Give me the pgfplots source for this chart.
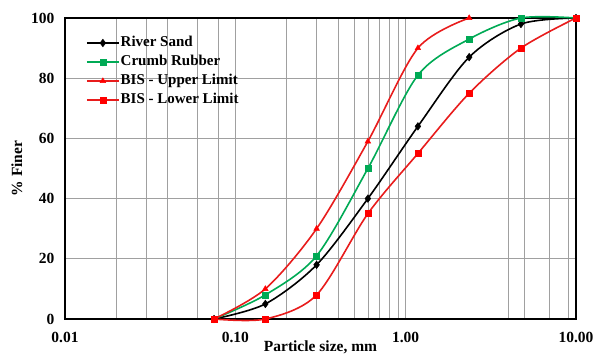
\documentclass[border=0pt]{standalone}
\usepackage{pgfplots}
\pgfplotsset{compat=1.18}
\usepackage{fontspec}
\setmainfont{Liberation Serif}
\definecolor{cgreen}{RGB}{0,170,85}
\definecolor{cred}{RGB}{232,28,28}
\definecolor{cgrid}{RGB}{160,160,160}
\begin{document}
\begin{tikzpicture}
\begin{axis}[
  at={(0,0)}, anchor=south west,
  scale only axis, width=511pt, height=301pt,
  xmode=log, xmin=0.01, xmax=10, ymin=0, ymax=100,
  xtick={0.01,0.1,1,10}, xticklabels={0.01,0.10,1.00,10.00},
  minor xtick={0.02,0.03,0.04,0.06,0.08,0.2,0.3,0.4,0.5,0.6,0.7,0.8,0.9,4,5,7,9},
  ytick={0,20,40,60,80,100}, yticklabels={0,20,40,60,80,100},
  xmajorgrids, xminorgrids, ymajorgrids,
  grid style={cgrid, line width=0.7pt},
  minor grid style={cgrid, line width=0.7pt},
  major tick length=0pt, minor tick length=0pt,
  axis line style={black, line width=1.3pt},
  tick label style={font=\fontsize{15.5}{15.5}\selectfont\bfseries},
  yticklabel style={xshift=-7pt},
  xticklabel style={yshift=-10pt},
  xlabel={Particle size, mm},
  ylabel={\% Finer},
  label style={font=\fontsize{15.5}{15.5}\selectfont\bfseries},
  xlabel style={at={(axis description cs:0.5,0)}, anchor=center, yshift=-28pt},
  ylabel style={at={(axis description cs:-0.094,0.5)}, anchor=center},
  clip=false,
  legend cell align=left,
  legend style={draw=none, fill=none, at={(axis description cs:0.035,0.95)}, anchor=north west,
    font=\fontsize{15}{15}\selectfont\bfseries, row sep=3.5pt,
    nodes={inner sep=1pt, text height=10.5pt, text depth=3pt}},
  legend image code/.code={\draw[#1,mark repeat=2,mark phase=2] plot coordinates {(0pt,0pt) (16pt,0pt) (32pt,0pt)};},
  every axis plot/.append style={line width=1.6pt},
]
\addplot[smooth, black, mark=diamond*, mark size=3.8pt, mark options={fill=black, line width=0.5pt}] coordinates {
 (0.075,0) (0.15,5) (0.3,18) (0.6,40) (1.18,64) (2.36,87) (4.75,98) (10,100)};
\addlegendentry{River Sand}
\addplot[smooth, cgreen, mark=square*, mark size=3pt, mark options={fill=cgreen, line width=0.5pt}] coordinates {
 (0.075,0) (0.15,8) (0.3,21) (0.6,50) (1.18,81) (2.36,93) (4.75,100) (10,100)};
\addlegendentry{Crumb Rubber}
\addplot[smooth, cred, mark=triangle*, mark size=3.2pt, mark options={fill=red, draw=red, line width=0.5pt}] coordinates {
 (0.075,0) (0.15,10) (0.3,30) (0.6,59) (1.18,90) (2.36,100)};
\addlegendentry{BIS - Upper Limit}
\addplot[smooth, cred, mark=square*, mark size=3pt, mark options={fill=red, draw=red, line width=0.5pt}] coordinates {
 (0.075,0) (0.15,0) (0.3,8) (0.6,35) (1.18,55) (2.36,75) (4.75,90) (10,100)};
\addlegendentry{BIS - Lower Limit}
\end{axis}
\pgfresetboundingbox
\path[use as bounding box] ([shift={(-65pt,-35pt)}]current axis.south west) rectangle ([shift={(21pt,18pt)}]current axis.north east);
\end{tikzpicture}
\end{document}
